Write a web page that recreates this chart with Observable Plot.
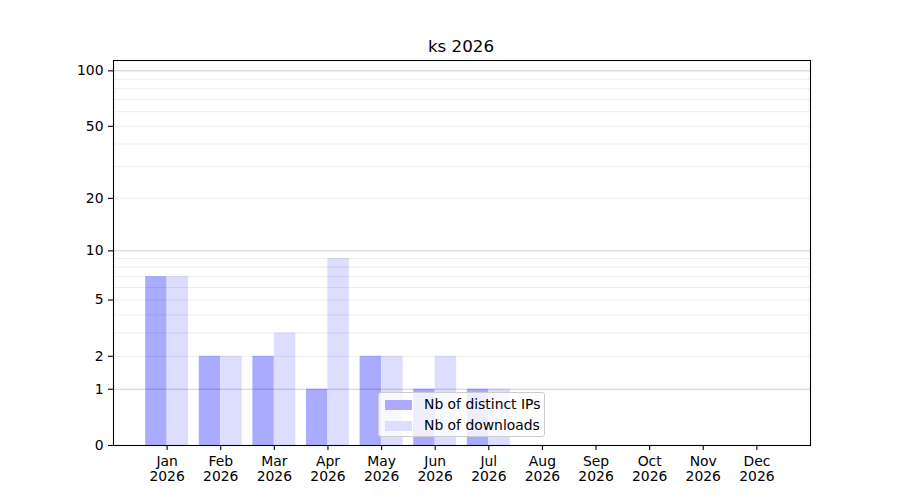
<!DOCTYPE html>
<html>
<head>
<meta charset="utf-8">
<script src="https://cdn.jsdelivr.net/npm/d3@7"></script>
<script src="https://cdn.jsdelivr.net/npm/@observablehq/plot@0.6"></script>
<style>
  body { margin: 0; background: #fff; font-family: "DejaVu Sans", sans-serif; }
  #wrap { position: relative; width: 900px; height: 500px; }
  #title { position: absolute; left: 0; width: 922px; top: 36px; text-align: center; font-size: 16.7px; color: #000; }
  #legend { position: absolute; left: 378px; top: 392px; width: 167px; height: 45px; background: rgba(255,255,255,0.8);
            border: 1px solid #cccccc; border-radius: 3px; box-sizing: border-box; font-size: 13.9px; }
  .item { position: absolute; left: 6px; height: 14px; }
  .sw { position: absolute; left: 0; top: 2px; width: 27px; height: 10px; }
  .lab { position: absolute; left: 39px; top: -2px; white-space: nowrap; }
</style>
</head>
<body>
<div id="wrap"></div>
<script>
const title = "ks 2026";
const months = ["Jan","Feb","Mar","Apr","May","Jun","Jul","Aug","Sep","Oct","Nov","Dec"];
const yearLabel = "2026";
const distinctIPs = [7, 2, 2, 1, 2, 1, 1, 0, 0, 0, 0, 0];
const downloads   = [7, 2, 3, 9, 2, 2, 1, 0, 0, 0, 0, 0];
const seriesNames = ["Nb of distinct IPs", "Nb of downloads"];
const seriesColors = ["#aaaaff", "#ddddff"];
const yTicks = [0, 1, 2, 5, 10, 20, 50, 100];
const majorGrid = [1, 10, 100];
const minorGrid = [2, 3, 4, 5, 6, 7, 8, 9, 20, 30, 40, 50, 60, 70, 80, 90];

const rows = months.map((m, i) => ({i, m, ips: distinctIPs[i], dl: downloads[i]}));
const barW = 0.4;

const chart = Plot.plot({
  width: 900,
  height: 500,
  marginLeft: 113,
  marginRight: 90,
  marginTop: 60,
  marginBottom: 55,
  style: {fontFamily: "DejaVu Sans, sans-serif", fontSize: "13.9px", color: "#000", background: "#fff"},
  x: {type: "linear", domain: [-1, 12]},
  y: {type: "symlog", constant: 1, domain: [0, 113.7]},
  marks: [
    Plot.rectY(rows, {x1: d => d.i - barW, x2: d => d.i, y: "ips", fill: seriesColors[0]}),
    Plot.rectY(rows, {x1: d => d.i, x2: d => d.i + barW, y: "dl", fill: seriesColors[1]}),
    Plot.ruleY(minorGrid, {stroke: "#000", strokeOpacity: 0.075, strokeWidth: 1}),
    Plot.ruleY(majorGrid, {stroke: "#000", strokeOpacity: 0.2, strokeWidth: 1}),
    Plot.axisY({ticks: yTicks, tickFormat: d => String(d), tickSize: 5, tickPadding: 5, label: null, strokeWidth: 1.1}),
    Plot.axisX({ticks: rows.map(d => d.i), tickFormat: i => months[i] + "\n" + yearLabel, tickSize: 5, tickPadding: 4, label: null, lineHeight: 1.12, strokeWidth: 1.1}),
    Plot.frame({stroke: "#000", strokeWidth: 1.1})
  ]
});

const wrap = document.getElementById("wrap");
wrap.appendChild(chart);

const t = document.createElement("div");
t.id = "title";
t.textContent = title;
wrap.appendChild(t);

const lg = document.createElement("div");
lg.id = "legend";
seriesNames.forEach((name, k) => {
  const it = document.createElement("div");
  it.className = "item";
  it.style.top = (5 + k * 20.5) + "px";
  const sw = document.createElement("div");
  sw.className = "sw";
  sw.style.background = seriesColors[k];
  const lb = document.createElement("div");
  lb.className = "lab";
  lb.textContent = name;
  it.appendChild(sw);
  it.appendChild(lb);
  lg.appendChild(it);
});
wrap.appendChild(lg);
</script>
</body>
</html>
